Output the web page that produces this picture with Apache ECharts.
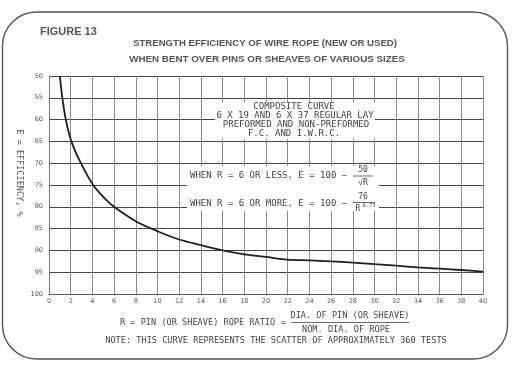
<!DOCTYPE html>
<html>
<head>
<meta charset="utf-8">
<script src="https://cdn.jsdelivr.net/npm/echarts@6/dist/echarts.min.js"></script>
<style>html,body{margin:0;padding:0;background:#fff;}#c{width:517px;height:367px;}</style>
</head>
<body>
<div id="c"></div>
<script>
// Pin (or sheave) rope ratio R
var ratioR = [1, 1.23, 1.55, 2.06, 2.94, 4.07, 5, 6, 8, 10, 12, 14, 16, 18, 20, 22, 24, 26, 28, 30, 32, 34, 36, 38, 40];
// Efficiency E (%)
var efficiency = [50, 55, 60, 65, 70, 75, 77.7, 80, 83.3, 85.6, 87.5, 88.8, 90, 90.9, 91.5, 92.1, 92.3, 92.5, 92.8, 93.15, 93.5, 93.9, 94.2, 94.5, 94.85];
var xTicks = {min: 0, max: 40, step: 2};
var yTicks = {min: 50, max: 100, step: 5};

var data = ratioR.map(function (r, i) { return [r, efficiency[i]]; });
var mono = '"DejaVu Sans Mono", monospace';
var ink = '#444';

var chart = echarts.init(document.getElementById('c'), null, {renderer: 'canvas'});
chart.setOption({
  backgroundColor: '#fff',
  animation: false,
  grid: {left: 49, right: 34, top: 76, bottom: 73},
  xAxis: {
    type: 'value', min: xTicks.min, max: xTicks.max, interval: xTicks.step,
    axisLine: {show: true, lineStyle: {color: '#555', width: 1}},
    axisTick: {show: false},
    axisLabel: {color: '#555', fontSize: 6.5, fontFamily: '"DejaVu Sans", sans-serif', margin: 4},
    splitLine: {show: true, lineStyle: {color: '#8a8a8a', width: 1}}
  },
  yAxis: {
    type: 'value', inverse: true, min: yTicks.min, max: yTicks.max, interval: yTicks.step,
    axisLine: {show: true, lineStyle: {color: '#777', width: 1}},
    axisTick: {show: false},
    axisLabel: {color: '#555', fontSize: 6.5, fontFamily: '"DejaVu Sans", sans-serif', margin: 6},
    splitLine: {show: true, lineStyle: {color: '#444', width: 1}}
  },
  series: [{
    type: 'line', data: data, smooth: 0.3, symbol: 'none',
    lineStyle: {color: '#1e1e1e', width: 1.8}, z: 5
  }],
  graphic: [
    {type: 'rect', shape: {x: 2.5, y: 12, width: 505, height: 347, r: 34}, style: {fill: null, stroke: '#555', lineWidth: 1.4}, z: 50, silent: true},
    {type: 'text', left: 40, top: 26, style: {text: 'FIGURE 13', fill: '#555', font: 'bold 11px "Liberation Sans", Arial, sans-serif'}, z: 60},
    {type: 'text', x: 265, y: 43, style: {text: 'STRENGTH EFFICIENCY OF WIRE ROPE (NEW OR USED)', fill: '#555', font: 'bold 9.6px "Liberation Sans", Arial, sans-serif', align: 'center', verticalAlign: 'middle'}, z: 60},
    {type: 'text', x: 267, y: 59, style: {text: 'WHEN BENT OVER PINS OR SHEAVES OF VARIOUS SIZES', fill: '#555', font: 'bold 9.8px "Liberation Sans", Arial, sans-serif', align: 'center', verticalAlign: 'middle'}, z: 60},
    // white boxes behind annotations
    {type: 'rect', shape: {x: 215, y: 102, width: 160, height: 37}, style: {fill: '#fff'}, z: 55, silent: true},
    {type: 'rect', shape: {x: 187, y: 166, width: 192, height: 45}, style: {fill: '#fff'}, z: 55, silent: true},
    {type: 'text', x: 294, y: 107, style: {text: 'COMPOSITE CURVE', fill: ink, font: '9px ' + mono, align: 'center', verticalAlign: 'middle'}, z: 60},
    {type: 'text', x: 295, y: 116, style: {text: '6 X 19 AND 6 X 37 REGULAR LAY', fill: ink, font: '9px ' + mono, align: 'center', verticalAlign: 'middle'}, z: 60},
    {type: 'text', x: 296, y: 125, style: {text: 'PREFORMED AND NON-PREFORMED', fill: ink, font: '9px ' + mono, align: 'center', verticalAlign: 'middle'}, z: 60},
    {type: 'text', x: 294, y: 134, style: {text: 'F.C. AND I.W.R.C.', fill: ink, font: '9px ' + mono, align: 'center', verticalAlign: 'middle'}, z: 60},
    {type: 'text', x: 190, y: 176, style: {text: 'WHEN R = 6 OR LESS, E = 100 \u2212', fill: ink, font: '9px ' + mono, align: 'left', verticalAlign: 'middle'}, z: 60},
    {type: 'text', x: 363, y: 170, style: {text: '50', fill: ink, font: '8px ' + mono, align: 'center', verticalAlign: 'middle'}, z: 60},
    {type: 'line', shape: {x1: 353, y1: 176, x2: 373, y2: 176}, style: {stroke: ink, lineWidth: 0.8}, z: 60},
    {type: 'text', x: 363, y: 182.5, style: {text: '\u221AR', fill: ink, font: '8px ' + mono, align: 'center', verticalAlign: 'middle'}, z: 60},
    {type: 'text', x: 190, y: 204, style: {text: 'WHEN R = 6 OR MORE, E = 100 \u2212', fill: ink, font: '9px ' + mono, align: 'left', verticalAlign: 'middle'}, z: 60},
    {type: 'text', x: 363, y: 197, style: {text: '76', fill: ink, font: '8px ' + mono, align: 'center', verticalAlign: 'middle'}, z: 60},
    {type: 'line', shape: {x1: 353, y1: 202.5, x2: 375, y2: 202.5}, style: {stroke: ink, lineWidth: 0.8}, z: 60},
    {type: 'text', x: 358, y: 208.5, style: {text: 'R', fill: ink, font: '8px ' + mono, align: 'center', verticalAlign: 'middle'}, z: 60},
    {type: 'text', x: 369, y: 205.5, style: {text: '0.73', fill: ink, font: '5.5px ' + mono, align: 'center', verticalAlign: 'middle'}, z: 60},
    {type: 'text', x: 19, y: 173, rotation: -Math.PI / 2, style: {text: 'E = EFFICIENCY, %', fill: '#555', font: '8.5px ' + mono, align: 'center', verticalAlign: 'middle'}, z: 60},
    {type: 'text', x: 120, y: 322.5, style: {text: 'R = PIN (OR SHEAVE) ROPE RATIO =', fill: ink, font: '8.6px ' + mono, align: 'left', verticalAlign: 'middle'}, z: 60},
    {type: 'text', x: 350, y: 316, style: {text: 'DIA. OF PIN (OR SHEAVE)', fill: ink, font: '8.6px ' + mono, align: 'center', verticalAlign: 'middle'}, z: 60},
    {type: 'line', shape: {x1: 291, y1: 322.5, x2: 409, y2: 322.5}, style: {stroke: ink, lineWidth: 0.8}, z: 60},
    {type: 'text', x: 346, y: 329.5, style: {text: 'NOM. DIA. OF ROPE', fill: ink, font: '8.6px ' + mono, align: 'center', verticalAlign: 'middle'}, z: 60},
    {type: 'text', x: 276, y: 341, style: {text: 'NOTE: THIS CURVE REPRESENTS THE SCATTER OF APPROXIMATELY 360 TESTS', fill: ink, font: '8.6px ' + mono, align: 'center', verticalAlign: 'middle'}, z: 60}
  ]
});
</script>
</body>
</html>
